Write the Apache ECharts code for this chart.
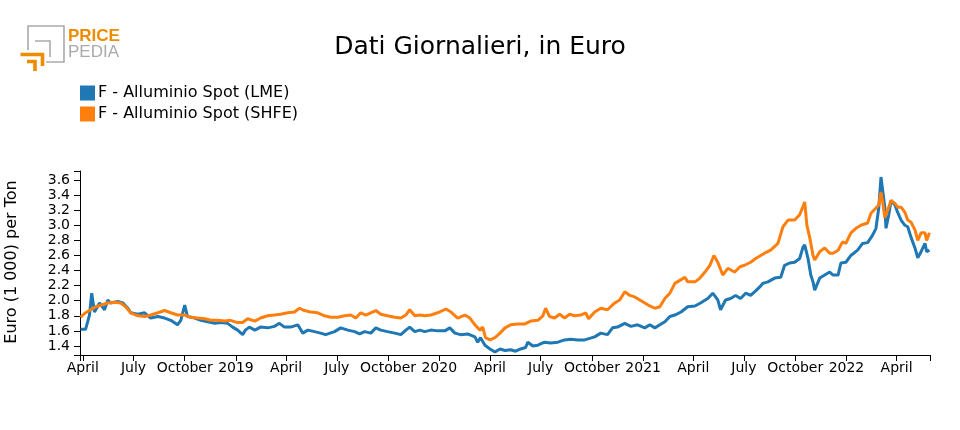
<!DOCTYPE html>
<html>
<head>
<meta charset="utf-8">
<script src="https://cdn.jsdelivr.net/npm/echarts@6/dist/echarts.min.js"></script>
<style>
html,body{margin:0;padding:0;background:#fff;}
#chart{width:960px;height:430px;}
</style>
</head>
<body>
<div id="chart"></div>
<script>
var titleText = 'Dati Giornalieri, in Euro';
var yAxisName = 'Euro (1 000) per Ton';
var seriesNames = ['F - Alluminio Spot (LME)', 'F - Alluminio Spot (SHFE)'];
var seriesColors = ['#1f77b4', '#ff7f0e'];

var lmeDates = ['2018-03-28','2018-04-06','2018-04-13','2018-04-17','2018-04-22','2018-05-01','2018-05-10','2018-05-16','2018-05-21','2018-06-03','2018-06-12','2018-06-21','2018-06-26','2018-07-09','2018-07-21','2018-08-01','2018-08-14','2018-08-26','2018-09-06','2018-09-18','2018-09-24','2018-10-01','2018-10-06','2018-10-19','2018-10-30','2018-11-11','2018-11-24','2018-12-05','2018-12-17','2018-12-26',
'2019-01-04','2019-01-13','2019-01-18','2019-01-25','2019-02-04','2019-02-14','2019-02-27','2019-03-11','2019-03-20','2019-03-29','2019-04-09','2019-04-22','2019-05-01','2019-05-10','2019-05-22','2019-06-02','2019-06-11','2019-06-27','2019-07-08','2019-07-21','2019-08-02','2019-08-11','2019-08-20','2019-08-31','2019-09-09','2019-09-18','2019-09-30','2019-10-13','2019-10-24','2019-11-02','2019-11-09','2019-11-18','2019-11-27','2019-12-06','2019-12-17','2019-12-29',
'2020-01-11','2020-01-20','2020-01-29','2020-02-08','2020-02-21','2020-03-05','2020-03-10','2020-03-15','2020-03-23','2020-04-01','2020-04-10','2020-04-19','2020-04-28','2020-05-08','2020-05-17','2020-05-26','2020-06-04','2020-06-08','2020-06-17','2020-06-26','2020-07-08','2020-07-19','2020-08-01','2020-08-13','2020-08-24','2020-09-06','2020-09-18','2020-10-06','2020-10-17','2020-10-29','2020-11-07','2020-11-16','2020-11-29','2020-12-10','2020-12-22',
'2021-01-04','2021-01-13','2021-01-22','2021-01-31','2021-02-09','2021-02-18','2021-02-27','2021-03-10','2021-03-22','2021-04-04','2021-04-14','2021-04-27','2021-05-06','2021-05-15','2021-05-20','2021-05-29','2021-06-07','2021-06-16','2021-06-25','2021-07-04','2021-07-13','2021-07-22','2021-07-29','2021-08-04','2021-08-13','2021-08-25','2021-09-05','2021-09-12','2021-09-21','2021-09-30','2021-10-09','2021-10-15','2021-10-18','2021-10-24','2021-10-29','2021-11-02','2021-11-05','2021-11-14','2021-11-23','2021-12-02','2021-12-08','2021-12-17','2021-12-22','2021-12-31',
'2022-01-09','2022-01-21','2022-01-30','2022-02-08','2022-02-17','2022-02-23','2022-02-28','2022-03-04','2022-03-07','2022-03-11','2022-03-13','2022-03-18','2022-03-22','2022-03-29','2022-04-03','2022-04-09','2022-04-16','2022-04-21','2022-04-27','2022-05-04','2022-05-09','2022-05-15','2022-05-22','2022-05-25','2022-05-30'];
var lmeValues = [1.62,1.62,1.81,2.10,1.85,1.97,1.88,2.01,1.97,1.99,1.97,1.90,1.84,1.82,1.84,1.77,1.79,1.77,1.74,1.68,1.74,1.94,1.79,1.77,1.74,1.72,1.70,1.71,1.70,1.65,
1.61,1.55,1.61,1.65,1.61,1.65,1.64,1.66,1.70,1.65,1.65,1.68,1.57,1.61,1.59,1.57,1.55,1.59,1.64,1.61,1.59,1.56,1.59,1.57,1.64,1.61,1.59,1.57,1.55,1.61,1.65,1.59,1.61,1.59,1.61,1.60,
1.60,1.64,1.57,1.55,1.56,1.52,1.45,1.51,1.41,1.36,1.32,1.36,1.34,1.35,1.33,1.36,1.38,1.45,1.40,1.41,1.45,1.44,1.45,1.48,1.49,1.48,1.48,1.52,1.57,1.55,1.64,1.65,1.70,1.66,1.68,
1.64,1.68,1.64,1.68,1.72,1.79,1.81,1.85,1.92,1.93,1.97,2.03,2.10,2.01,1.88,2.01,2.03,2.07,2.03,2.10,2.07,2.13,2.18,2.23,2.25,2.30,2.31,2.47,2.50,2.51,2.56,2.71,2.74,2.56,2.34,2.25,2.14,2.30,2.34,2.38,2.34,2.34,2.50,2.51,
2.60,2.67,2.76,2.77,2.87,2.96,3.23,3.64,3.62,3.23,2.96,3.14,3.33,3.27,3.17,3.07,3.00,2.98,2.84,2.70,2.57,2.65,2.76,2.65,2.67];

var shfeDates = ['2018-03-28','2018-04-04','2018-04-15','2018-04-24','2018-05-03','2018-05-16','2018-05-28','2018-06-08','2018-06-17','2018-06-26','2018-07-09','2018-07-21','2018-08-01','2018-08-14','2018-08-26','2018-09-06','2018-09-18','2018-10-01','2018-10-12','2018-10-24','2018-11-06','2018-11-17','2018-11-29','2018-12-12','2018-12-22',
'2019-01-04','2019-01-13','2019-01-22','2019-02-04','2019-02-14','2019-02-27','2019-03-11','2019-03-22','2019-04-04','2019-04-16','2019-04-25','2019-05-04','2019-05-15','2019-05-28','2019-06-09','2019-06-20','2019-07-03','2019-07-15','2019-07-26','2019-08-04','2019-08-13','2019-08-22','2019-08-31','2019-09-09','2019-09-18','2019-09-30','2019-10-13','2019-10-24','2019-11-02','2019-11-09','2019-11-18','2019-11-27','2019-12-06','2019-12-17','2019-12-29',
'2020-01-13','2020-01-22','2020-02-03','2020-02-16','2020-02-25','2020-03-05','2020-03-14','2020-03-19','2020-03-24','2020-04-01','2020-04-10','2020-04-19','2020-04-28','2020-05-08','2020-05-21','2020-06-02','2020-06-13','2020-06-26','2020-07-05','2020-07-10','2020-07-17','2020-07-26','2020-08-04','2020-08-13','2020-08-22','2020-08-31','2020-09-11','2020-09-20','2020-09-25','2020-10-06','2020-10-17','2020-10-29','2020-11-11','2020-11-20','2020-11-29','2020-12-08','2020-12-17','2020-12-26',
'2021-01-04','2021-01-13','2021-01-22','2021-01-31','2021-02-09','2021-02-18','2021-02-27','2021-03-08','2021-03-17','2021-03-22','2021-04-04','2021-04-13','2021-04-22','2021-05-01','2021-05-08','2021-05-15','2021-05-24','2021-06-02','2021-06-14','2021-06-24','2021-07-02','2021-07-13','2021-07-22','2021-08-07','2021-08-18','2021-08-31','2021-09-09','2021-09-18','2021-09-30','2021-10-09','2021-10-16','2021-10-18','2021-10-22','2021-10-27','2021-11-02','2021-11-05','2021-11-14','2021-11-23','2021-12-02','2021-12-08','2021-12-17','2021-12-25','2021-12-31',
'2022-01-09','2022-01-18','2022-01-27','2022-02-08','2022-02-14','2022-02-23','2022-02-28','2022-03-04','2022-03-07','2022-03-11','2022-03-16','2022-03-22','2022-03-29','2022-04-03','2022-04-09','2022-04-16','2022-04-21','2022-04-27','2022-05-04','2022-05-09','2022-05-15','2022-05-22','2022-05-25','2022-05-30'];
var shfeValues = [1.78,1.83,1.88,1.92,1.94,1.97,1.98,1.97,1.92,1.84,1.80,1.79,1.81,1.84,1.87,1.84,1.81,1.81,1.78,1.77,1.76,1.74,1.74,1.73,1.74,
1.71,1.71,1.76,1.73,1.77,1.80,1.81,1.82,1.84,1.85,1.90,1.87,1.85,1.84,1.80,1.78,1.78,1.80,1.81,1.77,1.84,1.81,1.84,1.87,1.82,1.80,1.78,1.77,1.81,1.88,1.80,1.81,1.80,1.81,1.84,
1.89,1.85,1.77,1.81,1.77,1.68,1.61,1.65,1.51,1.48,1.51,1.57,1.64,1.68,1.69,1.69,1.73,1.74,1.80,1.90,1.79,1.77,1.82,1.77,1.82,1.80,1.81,1.84,1.76,1.85,1.90,1.88,1.97,2.01,2.12,2.07,2.05,2.01,
1.97,1.93,1.90,1.92,2.03,2.10,2.23,2.27,2.31,2.25,2.25,2.30,2.38,2.47,2.60,2.51,2.34,2.43,2.38,2.45,2.47,2.51,2.56,2.63,2.67,2.76,2.98,3.07,3.07,3.14,3.27,3.31,3.00,2.84,2.60,2.54,2.65,2.70,2.63,2.63,2.67,2.78,2.76,
2.90,2.96,3.00,3.03,3.16,3.23,3.27,3.44,3.31,3.10,3.20,3.33,3.29,3.24,3.24,3.17,3.07,3.04,2.94,2.80,2.90,2.90,2.80,2.90];

var xMin = '2018-03-27';
var xMax = '2022-05-31';
var xTickDates = ['2018-04-01','2018-07-01','2018-10-01','2019-01-01','2019-04-01','2019-07-01','2019-10-01','2020-01-01','2020-04-01','2020-07-01','2020-10-01','2021-01-01','2021-04-01','2021-07-01','2021-10-01','2022-01-01','2022-04-01'];
var monthNames = {3: 'April', 6: 'July', 9: 'October'};
var yMin = 1.28, yMax = 3.72;
var yTicks = [1.4, 1.6, 1.8, 2.0, 2.2, 2.4, 2.6, 2.8, 3.0, 3.2, 3.4, 3.6];

function ts(s) { var p = s.split('-'); return Date.UTC(+p[0], +p[1] - 1, +p[2]); }
function pairs(d, v) { return d.map(function (x, i) { return [ts(x), v[i]]; }); }

var FONT = 'DejaVu Sans';
var xTickVals = xTickDates.map(ts);
var chart = echarts.init(document.getElementById('chart'), null, {renderer: 'canvas'});
chart.setOption({
  animation: false,
  backgroundColor: '#fff',
  textStyle: {fontFamily: FONT},
  grid: {left: 80, right: 30, top: 171, bottom: 75, containLabel: false},
  legend: {
    orient: 'vertical', left: 80, top: 85, itemWidth: 15, itemHeight: 15, itemGap: 5,
    icon: 'rect', padding: 0,
    textStyle: {fontFamily: FONT, fontSize: 16, color: '#000', padding: [0, 0, 0, -2]},
    data: seriesNames
  },
  xAxis: {
    type: 'value', min: ts(xMin), max: ts(xMax), scale: true,
    splitLine: {show: false},
    axisLine: {show: true, onZero: false, lineStyle: {color: '#000', width: 1}},
    axisTick: {show: true, length: 6, lineStyle: {color: '#000'}, customValues: [ts(xMin)].concat(xTickVals, [ts(xMax)])},
    axisLabel: {
      customValues: xTickVals, color: '#000', fontFamily: FONT, fontSize: 14, margin: 6,
      formatter: function (v) { var d = new Date(v); var m = d.getUTCMonth(); return m === 0 ? String(d.getUTCFullYear()) : monthNames[m]; }
    }
  },
  yAxis: {
    type: 'value', min: yMin, max: yMax,
    splitLine: {show: false},
    axisLine: {show: true, onZero: false, lineStyle: {color: '#000', width: 1}},
    axisTick: {show: true, length: 6, lineStyle: {color: '#000'}, customValues: [yMin].concat(yTicks, [yMax])},
    axisLabel: {customValues: yTicks, color: '#000', fontFamily: FONT, fontSize: 14, margin: 10,
      formatter: function (v) { return v.toFixed(1); }}
  },
  series: [
    {name: seriesNames[0], type: 'line', data: pairs(lmeDates, lmeValues), showSymbol: false, color: seriesColors[0], lineStyle: {width: 3}},
    {name: seriesNames[1], type: 'line', data: pairs(shfeDates, shfeValues), showSymbol: false, color: seriesColors[1], lineStyle: {width: 3}}
  ],
  graphic: [
    {type: 'text', x: 480, y: 47, style: {text: titleText, font: '25px "DejaVu Sans"', fill: '#000', textAlign: 'center', textVerticalAlign: 'middle'}},
    {type: 'text', x: 12, y: 262, rotation: Math.PI / 2, style: {text: yAxisName, font: '16px "DejaVu Sans"', fill: '#000', textAlign: 'center', textVerticalAlign: 'middle'}},
    {type: 'polyline', shape: {points: [[28, 50], [28, 26], [64, 26], [64, 62], [46, 62]]}, style: {stroke: '#aaaaaa', lineWidth: 1.6, fill: null}},
    {type: 'polyline', shape: {points: [[35, 41], [50, 41], [50, 57]]}, style: {stroke: '#aaaaaa', lineWidth: 1.6, fill: null}},
    {type: 'polyline', shape: {points: [[20.5, 54.5], [42.5, 54.5], [42.5, 66]]}, style: {stroke: '#ee8c00', lineWidth: 3.6, fill: null}},
    {type: 'polyline', shape: {points: [[27, 61.5], [35, 61.5], [35, 71]]}, style: {stroke: '#ee8c00', lineWidth: 3.6, fill: null}},
    {type: 'text', x: 68, y: 36, style: {text: 'PRICE', font: 'bold 17px "Liberation Sans"', fill: '#ee8c00', textVerticalAlign: 'middle'}},
    {type: 'text', x: 68, y: 52, style: {text: 'PEDIA', font: '17px "Liberation Sans"', fill: '#aaaaaa', textVerticalAlign: 'middle'}}
  ]
});
</script>
</body>
</html>
